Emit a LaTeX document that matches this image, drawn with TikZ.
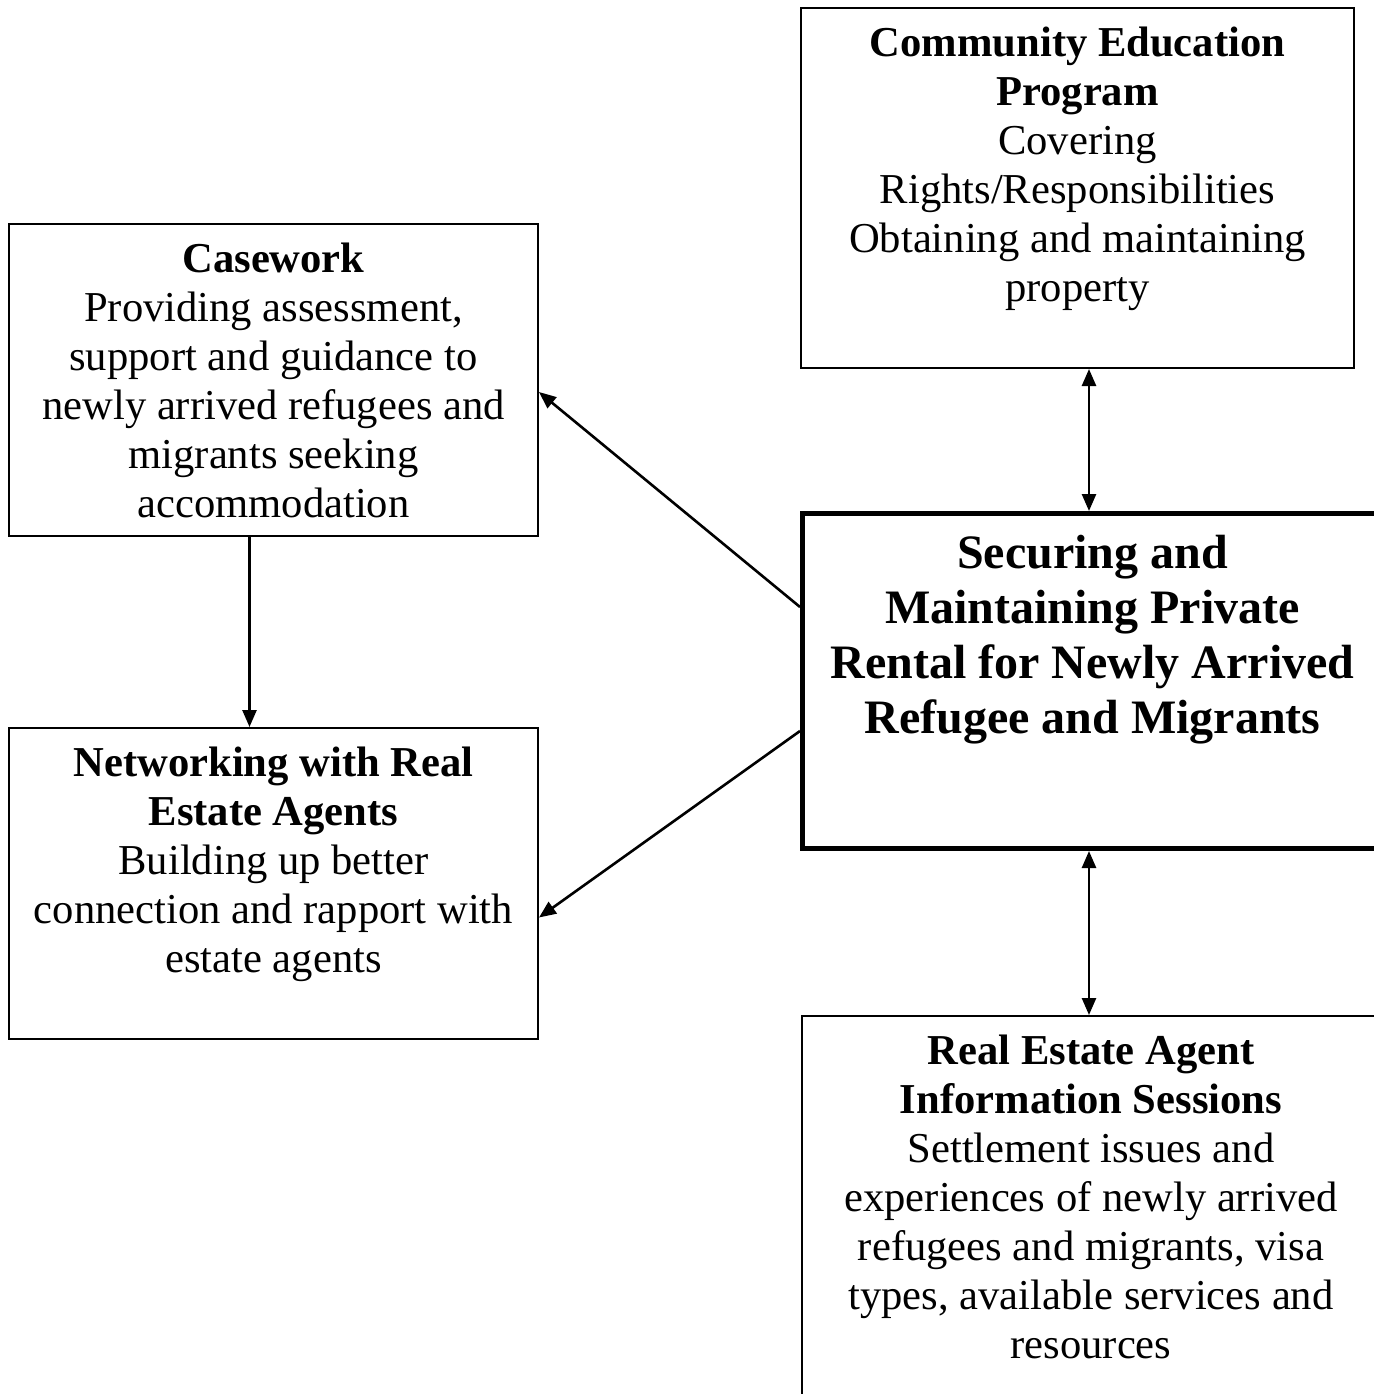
\documentclass[tikz,border=0pt]{standalone}
\usepackage{fontspec}
\setmainfont{Liberation Serif}
\usetikzlibrary{arrows.meta, positioning}

\tikzset{
    box/.style = {draw, line width=1pt, inner sep=0pt, anchor=north west},
    mainbox/.style = {box, line width=2.5pt},
    boxtext/.style = {align=center, inner sep=0pt, font=\fontsize{21.3}{24.5}\selectfont},
    maintext/.style = {align=center, inner sep=0pt, font=\bfseries\fontsize{24}{27.5}\selectfont},
    link/.style = {line width=1.3pt},
}

\begin{document}
\begin{tikzpicture}[x=1pt, y=-1pt, > = {Triangle[length=8.5pt, width=7pt]}]

        % Page frame; the two right boxes run past its right edge.
        \clip (0,0) rectangle (687,697);

        % The five boxes.
        \node[box, minimum width=276.5pt, minimum height=180pt] (edu) at (400,3.5) {};
        \node[box, minimum width=264.5pt, minimum height=156pt] (case) at (4,111.5) {};
        \node[mainbox, minimum width=290pt, minimum height=167.5pt] (main) at (400,255.5) {};
        \node[box, minimum width=264.5pt, minimum height=155.5pt] (net) at (4,363.5) {};
        \node[box, minimum width=289pt, minimum height=200pt] (agent) at (400.5,507.5) {};

        % Texts, set at the top of each box.
        \node[boxtext, below=10pt of edu.north] (edutext)
            {\textbf{Community Education}\\ \textbf{Program}\\ Covering\\
             Rights/Responsibilities\\ Obtaining and maintaining\\ property};
        \node[boxtext, below=10pt of case.north] (casetext)
            {\textbf{Casework}\\ Providing assessment,\\ support and guidance to\\
             newly arrived refugees and\\ migrants seeking\\ accommodation};
        \node[maintext, below=12pt of main.north] (maintext)
            {Securing and\\ Maintaining Private\\ Rental for Newly Arrived\\
             Refugee and Migrants};
        \node[boxtext, below=10pt of net.north] (nettext)
            {\textbf{Networking with Real}\\ \textbf{Estate Agents}\\
             Building up better\\ connection and rapport with\\ estate agents};
        \node[boxtext, below=10pt of agent.north] (agenttext)
            {\textbf{Real Estate Agent}\\ \textbf{Information Sessions}\\
             Settlement issues and\\ experiences of newly arrived\\
             refugees and migrants, visa\\ types, available services and\\ resources};

        % Column of the two vertical double arrows.
        \coordinate (spine) at (544.5,0);

        % Connectors.
        \draw[link, <->] (edu.south -| spine) to (main.north -| spine);
        \draw[link, <->] (main.south -| spine) to (agent.north -| spine);
        \draw[link, ->] ([xshift=-12pt]case.south) to ([xshift=-12pt]net.north);
        \draw[link, ->] ([yshift=37pt]main.west) to ([yshift=-6pt]case.east);
        \draw[link, ->] ([yshift=-25pt]main.west) to ([yshift=-17pt]net.east);
    \end{tikzpicture}
\end{document}
